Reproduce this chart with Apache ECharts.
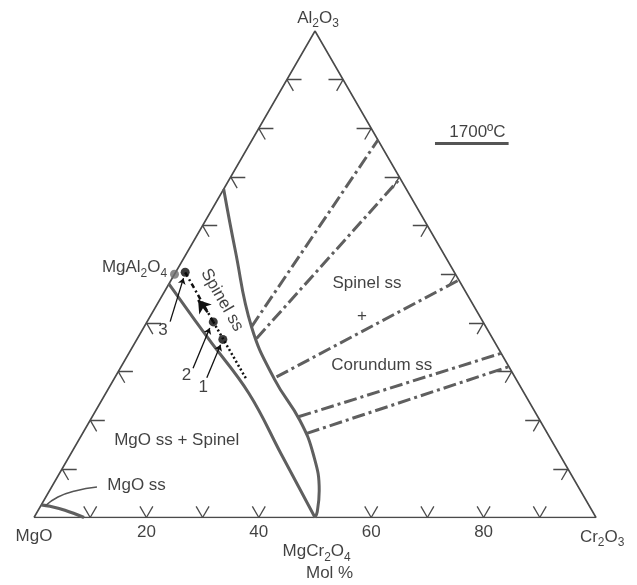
<!DOCTYPE html>
<html>
<head>
<meta charset="utf-8">
<script src="https://cdn.jsdelivr.net/npm/echarts@6/dist/echarts.min.js"></script>
<style>
html,body{margin:0;padding:0;background:#fff;}
#chart{width:637px;height:585px;}
</style>
</head>
<body>
<div id="chart"></div>
<script>
// All compositions are mol%: [Cr2O3, Al2O3]  (MgO = 100 - Cr2O3 - Al2O3)
const vertexNames = ['MgO', 'Cr2O3', 'Al2O3'];
const baseTickValues = [20, 40, 60, 80];
const tickSteps = [10, 20, 30, 40, 50, 60, 70, 80, 90];

const mgoSsBoundary = [[0, 2.6], [1.7, 2.3], [4.75, 1.5], [8.9, 0]];
const spinelLeftBoundary = [[0, 48], [12.6, 36.8], [25.5, 25.5], [37.5, 13], [50, 0]];
const spinelRightBoundary = [[0, 67.5], [8.3, 55], [19.1, 39.2], [28.6, 28.4], [37.3, 20],
  [43.2, 13], [48, 5.5], [49.8, 1.2], [50, 0]];
const tieLines = [
  [[19.1, 39.2], [22.4, 77.6]],
  [[21.2, 36.8], [30.3, 69.7]],
  [[28.7, 28.9], [51.2, 48.8]],
  [[36.7, 20.7], [66.25, 33.75]],
  [[39.9, 17.3], [69, 31]]
];
const mgAl2O4 = [0, 50];
const mgCr2O4 = [50, 0];
const sample3 = [1.7, 50.4];
const sample2 = [11.8, 40.2];
const sample1 = [15.3, 36.6];
const pathEnd = [23.7, 28.3];
const pathArrow = [[9.8, 42.2], [6.85, 44.7]];
const mgoSsLeader = [[8.07, 6.27], [4.57, 5.45], [2.16, 4.21], [0.78, 2.36]];

// annotation layout (ternary positions)
const pointerArrows = [
  [[4.1, 40.25], [2.0, 49.2]],
  [[12.95, 30.7], [11.8, 38.95]],
  [[16.4, 28.7], [15.45, 35.5]]
];
const underline1700 = [[32.9, 76.9], [46.0, 76.9]];
const labels = [
  { t: 'Al2O3', p: [-0.8, 102.7], sub: true },
  { t: '1700ºC', p: [39.3, 79.2] },
  { t: 'MgAl2O4', p: [-2.0, 51.4], sub: true, pos: 'left' },
  { t: 'Spinel ss', p: [11.1, 44.7], rot: -60 },
  { t: 'Spinel ss', p: [35.2, 48.1] },
  { t: '+', p: [37.7, 41.3] },
  { t: 'Corundum ss', p: [46.2, 31.35] },
  { t: 'MgO ss + Spinel', p: [17.45, 15.9] },
  { t: 'MgO ss', p: [14.9, 6.7] },
  { t: '3', p: [3.7, 38.5] },
  { t: '2', p: [12.5, 29.3] },
  { t: '1', p: [16.7, 26.8] },
  { t: 'MgO', p: [1.9, -3.8], sub: true },
  { t: 'Cr2O3', p: [103.1, -4.0], sub: true },
  { t: 'MgCr2O4', p: [53.8, -7.0], sub: true },
  { t: 'Mol %', p: [58.3, -11.4] }
];

function tern(p) { return [p[0] + p[1] / 2, p[1]]; }
function tl(arr) { return arr.map(tern); }
function subText(s) {
  return s.replace(/([A-Za-z]+)|(\d+)/g, function (m, a, d) {
    return a ? '{n|' + a + '}' : '{s|' + d + '}';
  });
}

const FONT = "'Liberation Sans', Arial, sans-serif";
const TXT = '#111111';
const EDGE = '#4a4a4a';
const PHASE = '#5f5f5f';

// tick marks (grid stubs parallel to the other edges)
const d = 2.3, dh = 2.6;
const tickSegs = [];
tickSteps.forEach(function (v) {
  if (v !== 50) {
    tickSegs.push([[v, 0], [v, d]]);
    tickSegs.push([[v, 0], [v - d, d]]);
    tickSegs.push([[0, v], [dh, v]]);
    tickSegs.push([[0, v], [d, v - d]]);
  }
  tickSegs.push([[100 - v, v], [100 - v - dh, v]]);
  tickSegs.push([[100 - v, v], [100 - v, v - d]]);
});

const rich = {
  n: { fontSize: 17, lineHeight: 24, fontFamily: FONT, color: TXT, textBorderWidth: 0 },
  s: { fontSize: 12, lineHeight: 13, verticalAlign: 'bottom', fontFamily: FONT, color: TXT, textBorderWidth: 0 }
};

const labelData = labels.map(function (l) {
  return {
    value: tern(l.p),
    label: {
      show: true,
      position: l.pos || 'inside',
      distance: 0,
      rotate: l.rot || 0,
      formatter: l.sub ? subText(l.t) : l.t,
      rich: l.sub ? rich : undefined,
      fontSize: 17,
      fontFamily: FONT,
      color: TXT,
      textBorderWidth: 0
    }
  };
});

const tickLabelData = baseTickValues.map(function (v) {
  return {
    value: tern([v, 0]),
    label: { show: true, position: 'bottom', distance: 6, formatter: String(v), fontSize: 17,
      fontFamily: FONT, color: TXT, textBorderWidth: 0 }
  };
});

const chart = echarts.init(document.getElementById('chart'), null, { renderer: 'canvas' });
chart.setOption({
  animation: false,
  backgroundColor: '#ffffff',
  grid: { left: 34, top: 31, width: 562, height: 486.5 },
  xAxis: { type: 'value', min: 0, max: 100, show: false },
  yAxis: { type: 'value', min: 0, max: 100, show: false },
  series: [
    { type: 'line', data: tl([[0, 0], [100, 0], [0, 100], [0, 0]]), symbol: 'none',
      lineStyle: { color: EDGE, width: 1.6 }, z: 3 },
    { type: 'lines', coordinateSystem: 'cartesian2d',
      data: tickSegs.map(function (s) { return { coords: tl(s) }; }),
      lineStyle: { color: EDGE, width: 1.3, opacity: 1 }, z: 3 },
    { type: 'line', data: tl(mgoSsBoundary), smooth: 0.4, symbol: 'none',
      lineStyle: { color: PHASE, width: 3.2 }, z: 4 },
    { type: 'line', data: tl(spinelLeftBoundary), smooth: 0.4, symbol: 'none',
      lineStyle: { color: PHASE, width: 3 }, z: 4 },
    { type: 'line', data: tl(spinelRightBoundary), smooth: 0.45, symbol: 'none',
      lineStyle: { color: PHASE, width: 3 }, z: 4 },
    { type: 'lines', coordinateSystem: 'cartesian2d',
      data: tieLines.map(function (s) { return { coords: tl(s) }; }),
      lineStyle: { color: PHASE, width: 3, type: [13, 4, 3, 4], opacity: 1 }, z: 4 },
    { type: 'line', data: tl([sample3, sample2]), symbol: 'none',
      lineStyle: { color: '#111', width: 2.5, type: [5, 3, 2, 3] }, z: 5 },
    { type: 'line', data: tl([sample2, pathEnd]), symbol: 'none',
      lineStyle: { color: '#111', width: 2.5, type: [2, 2.5] }, z: 5 },
    { type: 'lines', coordinateSystem: 'cartesian2d',
      data: [{ coords: tl(pathArrow) }], symbol: ['none', 'arrow'], symbolSize: [9, 12],
      lineStyle: { color: '#111', width: 2.5, opacity: 1 }, z: 6 },
    { type: 'lines', coordinateSystem: 'cartesian2d',
      data: pointerArrows.map(function (s) { return { coords: tl(s) }; }),
      symbol: ['none', 'arrow'], symbolSize: 6,
      lineStyle: { color: '#111', width: 1.3, opacity: 1 }, z: 6 },
    { type: 'line', data: tl(mgoSsLeader), smooth: 0.5, symbol: 'none',
      lineStyle: { color: '#555', width: 1.6 }, z: 4 },
    { type: 'line', data: tl(underline1700), symbol: 'none',
      lineStyle: { color: '#555', width: 3 }, z: 4 },
    { type: 'scatter', data: [tern(mgAl2O4)], symbol: 'circle', symbolSize: 9,
      itemStyle: { color: '#6e6e6e' }, z: 7 },
    { type: 'scatter', data: [tern(sample3), tern(sample2), tern(sample1)], symbol: 'circle', symbolSize: 9,
      itemStyle: { color: '#0a0a0a' }, z: 8 },
    { type: 'scatter', data: labelData, symbolSize: 0, clip: false, silent: true, z: 10,
      itemStyle: { color: 'transparent' } },
    { type: 'scatter', data: tickLabelData, symbolSize: 0, clip: false, silent: true, z: 10,
      itemStyle: { color: 'transparent' } }
  ]
});
</script>
</body>
</html>
